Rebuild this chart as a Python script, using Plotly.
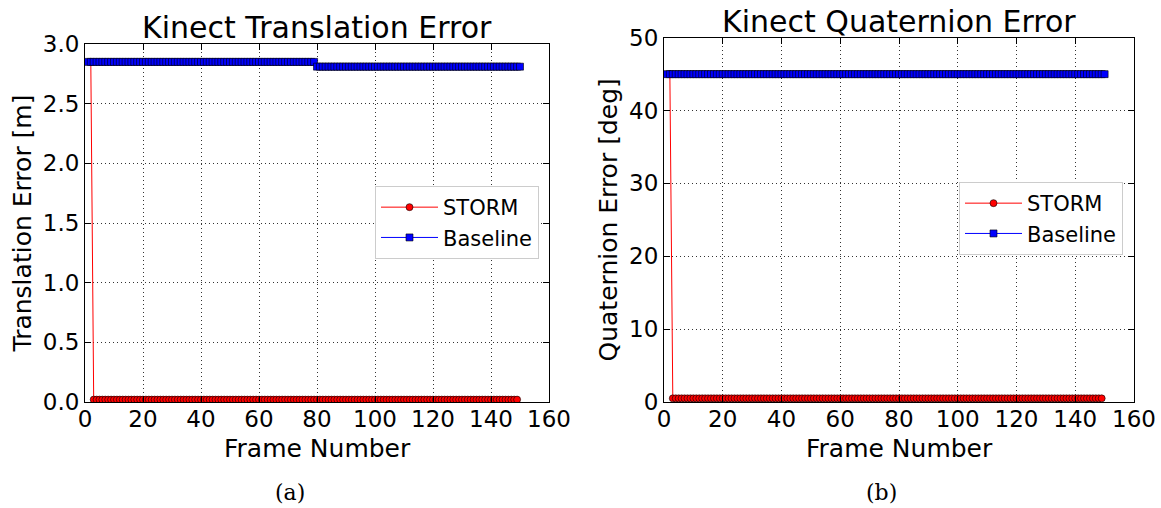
import plotly.graph_objects as go

# ---- data ----
baseline_frames = list(range(1, 151))
storm_frames = list(range(2, 150))

# Translation error [m]
baseline_trans = [2.85] * 79 + [2.81] * 71          # step at frame 80
storm_trans = [2.85] + [0.02] * 147                 # drops after frame 2

# Quaternion error [deg]
baseline_quat = [45.0] * 150
storm_quat = [45.0] + [0.5] * 147

x_ticks = [0, 20, 40, 60, 80, 100, 120, 140, 160]
trans_ticks = [0.0, 0.5, 1.0, 1.5, 2.0, 2.5, 3.0]
quat_ticks = [0, 10, 20, 30, 40, 50]

FONT = "DejaVu Sans"
W, H = 1161, 508

fig = go.Figure()

def storm_trace(x, y, xa, ya, leg):
    return go.Scatter(x=x, y=y, name="STORM", mode="lines+markers",
                      xaxis=xa, yaxis=ya, legend=leg, legendgroup="s" + leg,
                      line=dict(color="red", width=1),
                      marker=dict(symbol="circle", size=7, color="red",
                                  line=dict(color="black", width=0.6)))

def base_trace(x, y, xa, ya, leg):
    return go.Scatter(x=x, y=y, name="Baseline", mode="lines+markers",
                      xaxis=xa, yaxis=ya, legend=leg, legendgroup="b" + leg,
                      line=dict(color="blue", width=1),
                      marker=dict(symbol="square", size=7, color="blue",
                                  line=dict(color="black", width=0.6)))

fig.add_trace(storm_trace(storm_frames, storm_trans, "x", "y", "legend"))
fig.add_trace(base_trace(baseline_frames, baseline_trans, "x", "y", "legend"))
fig.add_trace(storm_trace(storm_frames, storm_quat, "x2", "y2", "legend2"))
fig.add_trace(base_trace(baseline_frames, baseline_quat, "x2", "y2", "legend2"))

axis_common = dict(showline=True, linecolor="black", linewidth=1, mirror="ticks",
                   ticks="inside", ticklen=6, tickcolor="black", automargin=False,
                   showgrid=True, gridcolor="rgba(0,0,0,0.8)", griddash="1px,3px", gridwidth=1,
                   zeroline=False, tickfont=dict(family=FONT, size=23, color="black"))

def px(x):
    return x / W

def py(y):
    return 1 - y / H

legend_common = dict(xanchor="left", yanchor="top", bgcolor="white",
                     bordercolor="#cccccc", borderwidth=1, font=dict(family=FONT, size=21),
                     itemwidth=57, tracegroupgap=0, traceorder="grouped")

def text_ann(text, x, y, size, family=FONT, angle=0):
    return dict(text=text, x=px(x), y=py(y), xref="paper", yref="paper",
                xanchor="center", yanchor="middle", showarrow=False, textangle=angle,
                font=dict(family=family, size=size, color="black"))

fig.update_layout(
    template="none",
    width=W, height=H, margin=dict(l=0, r=0, t=0, b=0, pad=0, autoexpand=False),
    paper_bgcolor="white", plot_bgcolor="white",
    font=dict(family=FONT, color="black"),
    xaxis=dict(domain=[px(85), px(549)], range=[0, 160], tickvals=x_ticks, anchor="y",
               ticklabelstandoff=-4, **axis_common),
    yaxis=dict(domain=[py(402), py(44)], range=[0, 3], tickvals=trans_ticks, tickformat=".1f",
               anchor="x", title=dict(text="Translation Error [m]", font=dict(size=25), standoff=4),
               **axis_common),
    xaxis2=dict(domain=[px(664), px(1134)], range=[0, 160], tickvals=x_ticks, anchor="y2",
                ticklabelstandoff=-4, **axis_common),
    yaxis2=dict(domain=[py(402), py(37.7)], range=[0, 50], tickvals=quat_ticks, anchor="x2",
                title=dict(text="Quaternion Error [deg]", font=dict(size=25), standoff=4),
                **axis_common),
    legend=dict(x=px(375), y=py(186), **legend_common),
    legend2=dict(x=px(959), y=py(182), **legend_common),
    annotations=[
        dict(text="Kinect Translation Error", x=px(317), y=py(44), xref="paper", yref="paper",
             xanchor="center", yanchor="bottom", showarrow=False, yshift=-3,
             font=dict(family=FONT, size=30)),
        dict(text="Kinect Quaternion Error", x=px(899), y=py(37.7), xref="paper", yref="paper",
             xanchor="center", yanchor="bottom", showarrow=False, yshift=-3,
             font=dict(family=FONT, size=30)),
        text_ann("Frame Number", 317, 448, 25),
        text_ann("Frame Number", 899, 448, 25),
        text_ann("(a)", 290, 492, 22, family="DejaVu Serif"),
        text_ann("(b)", 881, 492, 22, family="DejaVu Serif"),
    ],
)

fig.write_html("out.html")
